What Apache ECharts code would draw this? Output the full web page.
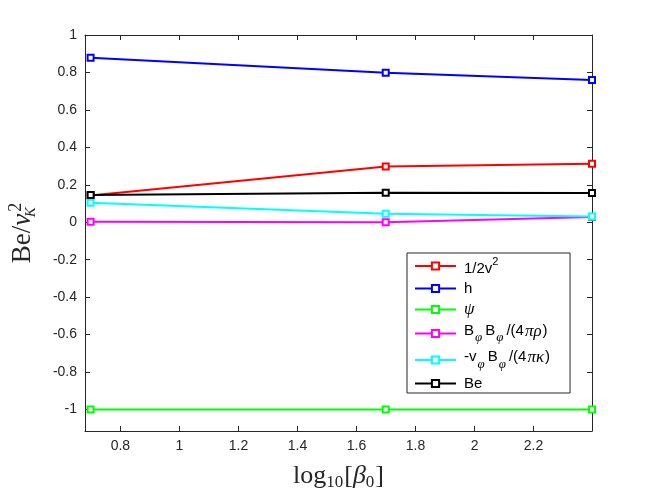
<!DOCTYPE html>
<html>
<head>
<meta charset="utf-8">
<script src="https://cdn.jsdelivr.net/npm/echarts@6/dist/echarts.min.js"></script>
<style>
  html, body { margin: 0; padding: 0; background: #fff; }
  #chart { width: 654px; height: 491px; }
</style>
</head>
<body>
<div id="chart"></div>
<script>
// log10(beta0) for the three runs
const xVals = [0.699, 1.699, 2.398];

// energy terms normalised by v_K^2
const kinetic = [0.143, 0.298, 0.312];
const enthalpy = [0.879, 0.799, 0.760];
const potential = [-1, -1, -1];
const magnetic = [0.003, 0.000, 0.028];
const induction = [0.104, 0.045, 0.031];
const bernoulli = [0.145, 0.157, 0.156];

const seriesNames = ['1/2v2', 'h', 'psi', 'BpBp', 'vpBp', 'Be'];
const seriesColors = ['#ff0000', '#0000ff', '#00ff00', '#ff00ff', '#00ffff', '#000000'];
const seriesValues = [kinetic, enthalpy, potential, magnetic, induction, bernoulli];

const xTicks = [0.8, 1, 1.2, 1.4, 1.6, 1.8, 2, 2.2];
const yTicks = [-1, -0.8, -0.6, -0.4, -0.2, 0, 0.2, 0.4, 0.6, 0.8, 1];

const legendText = {
  '1/2v2': '{nb|1/2v}{sup|2}',
  'h': '{n|h}',
  'psi': '{it|ψ}',
  'BpBp': '{nt|B}{sub|φ}{nt|B}{sub|φ}{nt|/(4}{itt|πρ}{nt|)}',
  'vpBp': '{nt|-v}{sub2|φ}{nt|B}{sub2|φ}{nt|/(4}{itt|πκ}{nt|)}',
  'Be': '{n|Be}'
};

const axisColor = '#262626';
const sans = '"Liberation Sans", Arial, Helvetica, sans-serif';
const serif = '"Liberation Serif", "DejaVu Serif", "Times New Roman", serif';

function boxAxis(pos, min, max, ticks, showLabel) {
  return {
    type: 'value',
    position: pos,
    min: min,
    max: max,
    splitLine: { show: false },
    axisLine: { show: true, onZero: false, lineStyle: { color: axisColor, width: 1 } },
    axisTick: { show: true, inside: true, length: 5, customValues: ticks, lineStyle: { color: axisColor } },
    axisLabel: {
      show: showLabel,
      customValues: ticks,
      color: axisColor,
      fontFamily: sans,
      fontSize: 14,
      margin: 8
    }
  };
}

const chart = echarts.init(document.getElementById('chart'));

const xBottom = boxAxis('bottom', 0.68, 2.398, xTicks, true);
xBottom.name = '{r|log}{s|10}{r|[}{g|β}{s|0}{r|]}';
xBottom.nameLocation = 'middle';
xBottom.nameGap = 31;
xBottom.nameTextStyle = {
  rich: {
    r: { fontFamily: serif, fontSize: 26, color: axisColor, lineHeight: 28 },
    g: { fontFamily: serif, fontStyle: 'italic', fontSize: 26, color: axisColor, lineHeight: 28 },
    s: { fontFamily: serif, fontSize: 17, color: axisColor, verticalAlign: 'bottom', padding: [12, 1, 0, 0] }
  }
};

const yLeft = boxAxis('left', -1.115, 1, yTicks, true);
yLeft.name = '{r|Be/}{v|v}{k|K}{t|2}';
yLeft.nameLocation = 'middle';
yLeft.nameGap = 46;
yLeft.nameRotate = 90;
yLeft.nameTextStyle = {
  rich: {
    r: { fontFamily: serif, fontSize: 27, color: axisColor, lineHeight: 32 },
    v: { fontFamily: serif, fontStyle: 'italic', fontSize: 27, color: axisColor, lineHeight: 32 },
    k: { fontFamily: serif, fontStyle: 'italic', fontSize: 15, color: axisColor, verticalAlign: 'bottom', padding: [14, 0, 0, 1], width: 1 },
    t: { fontFamily: serif, fontSize: 18, color: axisColor, verticalAlign: 'top', padding: [0, 0, 14, 0] }
  }
};

chart.setOption({
  backgroundColor: '#ffffff',
  animation: false,
  grid: { left: 85, right: 62, top: 35, bottom: 60, outerBoundsMode: 'none' },
  xAxis: [
    xBottom,
    boxAxis('top', 0.68, 2.398, xTicks, false)
  ],
  yAxis: [
    yLeft,
    boxAxis('right', -1.115, 1, yTicks, false)
  ],
  legend: {
    orient: 'vertical',
    left: 407,
    top: 253,
    padding: [3, 20, 2, 7],
    itemGap: 5,
    itemWidth: 41,
    itemHeight: 9,
    backgroundColor: '#ffffff',
    borderColor: axisColor,
    borderWidth: 1,
    data: seriesNames,
    formatter: function (name) { return legendText[name]; },
    textStyle: {
      padding: [0, 0, 0, 3],
      rich: {
        n: { fontFamily: sans, fontSize: 15, color: '#000', lineHeight: 18 },
        nb: { fontFamily: sans, fontSize: 15, color: '#000', lineHeight: 20, verticalAlign: 'bottom' },
        nt: { fontFamily: sans, fontSize: 15, color: '#000', lineHeight: 18, verticalAlign: 'top' },
        it: { fontFamily: serif, fontStyle: 'italic', fontSize: 17, color: '#000', lineHeight: 18 },
        itt: { fontFamily: serif, fontStyle: 'italic', fontSize: 17, color: '#000', lineHeight: 18, verticalAlign: 'top', padding: [0, 1, 0, 1] },
        sup: { fontFamily: sans, fontSize: 11, color: '#000', verticalAlign: 'top', padding: [0, 0, 9, 0] },
        sub: { fontFamily: serif, fontStyle: 'italic', fontSize: 13, color: '#000', verticalAlign: 'bottom', padding: [8, 3, 0, 1] },
        sub2: { fontFamily: serif, fontStyle: 'italic', fontSize: 13, color: '#000', verticalAlign: 'bottom', padding: [9, 3, 0, 1] }
      }
    }
  },
  series: seriesNames.map(function (name, i) {
    return {
      name: name,
      type: 'line',
      xAxisIndex: 0,
      yAxisIndex: 0,
      data: xVals.map(function (x, j) { return [x, seriesValues[i][j]]; }),
      symbol: 'emptyRect',
      symbolSize: 6,
      showSymbol: true,
      color: seriesColors[i],
      lineStyle: { color: seriesColors[i], width: 2 },
      itemStyle: { color: seriesColors[i], borderColor: seriesColors[i], borderWidth: 3 },
      emphasis: { disabled: true },
      z: 2 + i
    };
  })
});
</script>
</body>
</html>
